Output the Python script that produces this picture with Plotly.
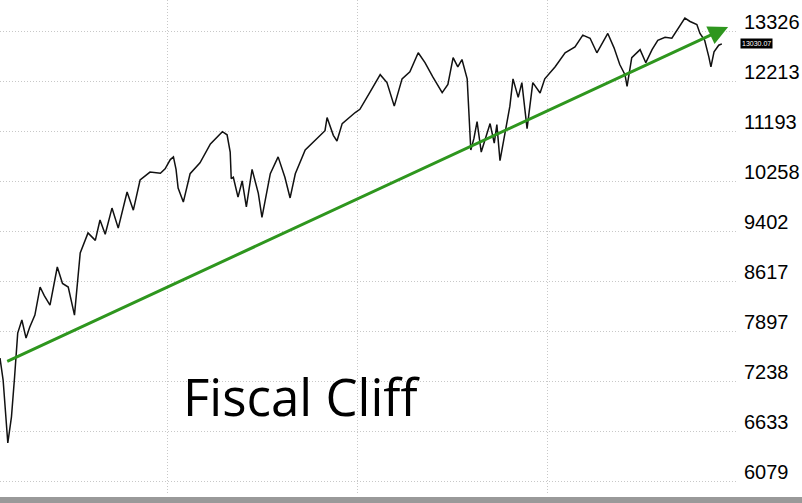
import math
import plotly.graph_objects as go

dates = [
    "2009-02-14", "2009-02-20", "2009-03-01", "2009-03-08", "2009-03-14", "2009-03-20", "2009-03-28",
    "2009-04-05", "2009-04-12", "2009-04-22", "2009-05-02", "2009-05-10", "2009-05-21", "2009-06-04",
    "2009-06-14", "2009-06-25", "2009-07-07", "2009-07-18", "2009-08-02", "2009-08-16",
    "2009-08-25", "2009-09-04", "2009-09-17", "2009-09-29", "2009-10-16", "2009-10-28",
    "2009-11-10", "2009-11-29", "2009-12-19", "2009-12-28", "2010-01-07", "2010-01-13",
    "2010-01-18", "2010-01-22", "2010-02-01", "2010-02-14", "2010-03-05", "2010-03-25",
    "2010-04-17", "2010-04-26", "2010-05-02", "2010-05-04", "2010-05-08", "2010-05-17",
    "2010-05-25", "2010-06-02", "2010-06-13", "2010-06-25", "2010-07-02", "2010-07-18",
    "2010-08-02", "2010-08-15", "2010-08-25", "2010-09-04", "2010-09-23", "2010-10-12",
    "2010-10-31", "2010-11-04", "2010-11-16", "2010-11-23", "2010-12-03", "2010-12-28",
    "2011-01-06", "2011-01-26", "2011-02-14", "2011-02-27", "2011-03-13", "2011-03-28",
    "2011-04-12", "2011-04-28", "2011-05-11", "2011-05-26", "2011-06-13", "2011-06-24",
    "2011-07-04", "2011-07-13", "2011-07-21", "2011-07-31", "2011-08-04", "2011-08-07",
    "2011-08-13", "2011-08-19", "2011-08-27", "2011-09-03", "2011-09-13", "2011-09-21",
    "2011-09-26", "2011-10-02", "2011-10-10", "2011-10-21", "2011-10-27", "2011-11-06",
    "2011-11-13", "2011-11-23", "2011-12-04", "2011-12-18", "2011-12-27", "2012-01-16",
    "2012-02-04", "2012-02-23", "2012-03-09", "2012-03-23", "2012-04-05", "2012-04-17",
    "2012-04-26", "2012-05-08", "2012-05-19", "2012-05-29", "2012-06-02", "2012-06-11",
    "2012-06-27", "2012-07-08", "2012-07-20", "2012-07-31", "2012-08-14", "2012-08-27",
    "2012-09-12", "2012-09-21", "2012-10-01", "2012-10-14", "2012-10-20", "2012-10-29",
    "2012-11-06", "2012-11-10", "2012-11-16", "2012-11-25", "2012-12-01",
]
closes = [
    7533, 7250, 6496, 6800, 7288, 7869, 8050,
    7800, 7950, 8120, 8527, 8400, 8263, 8830,
    8580, 8527, 8120, 9048, 9370, 9250,
    9585, 9350, 9786, 9450, 10065, 9750,
    10277, 10420, 10400, 10480, 10650, 10700,
    10470, 10135, 9889, 10390, 10590, 10945,
    11180, 11120, 10790, 10300, 10325, 9975,
    10260, 9807, 10470, 10040, 9630, 10390,
    10700, 10325, 9960, 10390, 10830, 11020,
    11200, 11460, 11110, 11000, 11340, 11560,
    11626, 11992, 12350, 12180, 11690, 12260,
    12410, 12830, 12610, 12300, 11970, 12140,
    12720, 12520, 12680, 12260, 11380, 10830,
    11050, 11380, 10790, 11020, 11340, 10960,
    11320, 10630, 11050, 11690, 12260, 11870,
    12180, 11240, 12180, 11960, 12260, 12520,
    12830, 12960, 13230, 13160, 12830, 13070,
    13270, 12940, 12570, 12350, 12100, 12720,
    12900, 12610, 12900, 13110, 13180, 13160,
    13460, 13630, 13550, 13480, 13270, 13110,
    12740, 12520, 12850, 13000, 13030,
]
tick_vals = [6079, 6633, 7238, 7897, 8617, 9402, 10258, 11193, 12213, 13326]
last_label = "13030.07"
trend_start = ("2009-02-25", 7481)
trend_end = ("2012-12-13", 13419)
note = "Fiscal Cliff"

fig = go.Figure()
fig.add_trace(go.Scatter(x=dates, y=closes, mode="lines",
                         line=dict(color="#111111", width=1.5), showlegend=False))

fig.add_annotation(x=trend_end[0], y=math.log10(trend_end[1]), xref="x", yref="y",
                   ax=trend_start[0], ay=math.log10(trend_start[1]), axref="x", ayref="y",
                   showarrow=True, arrowhead=2, arrowsize=1.3, arrowwidth=3,
                   arrowcolor="#2e961e", standoff=0, text="")

fig.add_annotation(x=0.4085, y=0.2, xref="paper", yref="paper", text=note,
                   showarrow=False, font=dict(family="Open Sans", size=51, color="#000000"),
                   xanchor="center", yanchor="middle")

fig.add_annotation(x=1.0, y=math.log10(closes[-1]), xref="paper", yref="y", xshift=2,
                   text=last_label, showarrow=False, xanchor="left", yanchor="middle",
                   bgcolor="#000000", font=dict(family="Liberation Sans", size=7, color="#ffffff"),
                   borderpad=1)

fig.add_shape(type="rect", xref="paper", yref="paper", x0=-0.01, x1=1.1, y0=-0.02, y1=-0.004,
              fillcolor="#999999", line=dict(width=0), layer="above")

fig.update_layout(
    width=802, height=503,
    margin=dict(l=0, r=64, t=0, b=8),
    paper_bgcolor="white", plot_bgcolor="white",
    xaxis=dict(type="date", range=["2009-02-14", "2013-01-01"], showticklabels=False,
               showgrid=True, gridcolor="#c8c8c8", griddash="1px,2px", gridwidth=1,
               dtick="M12", tick0="2010-01-01", zeroline=False, showline=False, ticks=""),
    yaxis=dict(type="log", range=[math.log10(5933), math.log10(14067)], side="right",
               tickvals=tick_vals, ticktext=[str(v) for v in tick_vals],
               showgrid=True, gridcolor="#c8c8c8", griddash="1px,2px", gridwidth=1,
               tickfont=dict(family="Liberation Sans", size=20, color="#000000"),
               ticklabelshift=-9, ticklabelstandoff=5, automargin=False,
               zeroline=False, showline=False, ticks=""),
)

fig.write_html("out.html", config={"displayModeBar": False},
               post_script="document.body.style.margin='0';")
